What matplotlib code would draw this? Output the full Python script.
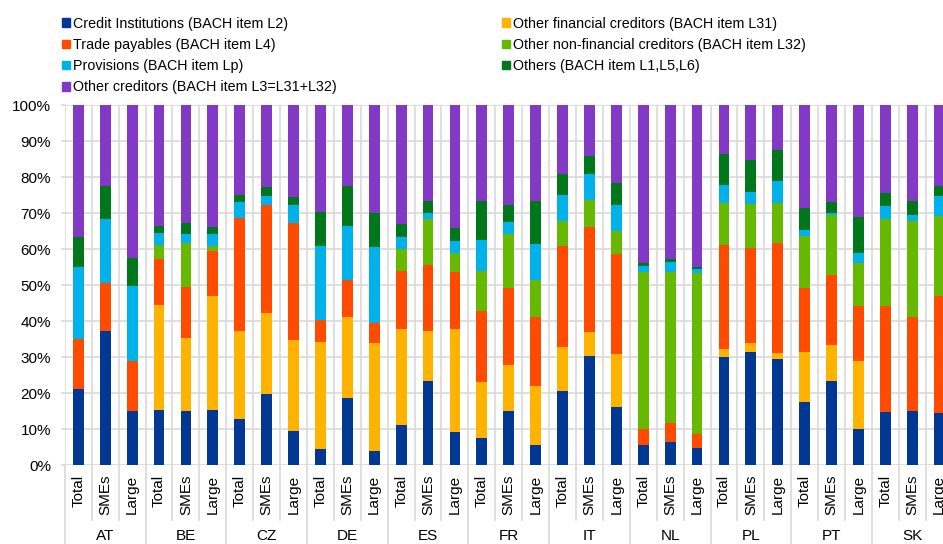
import numpy as np
import matplotlib.pyplot as plt
from matplotlib.patches import Patch

plt.rcParams['font.family'] = ['Liberation Sans', 'DejaVu Sans']

countries = ["AT", "BE", "CZ", "DE", "ES", "FR", "IT", "NL", "PL", "PT", "SK"]
sizes = ["Total", "SMEs", "Large"]

# shares in % per bar (country x size), bottom to top
credit = [21.2, 37.4, 15.1, 15.3, 15.0, 15.3, 12.7, 19.8, 9.4, 4.5, 18.5, 3.9,
          11.1, 23.4, 9.3, 7.6, 15.0, 5.7, 20.7, 30.4, 16.2, 5.6, 6.5, 4.8,
          30.1, 31.3, 29.6, 17.5, 23.5, 10.0, 14.7, 15.1, 14.4]
other_fin = [0, 0, 0, 29.2, 20.3, 31.7, 24.7, 22.6, 25.4, 29.6, 22.6, 29.9,
             26.8, 13.9, 28.6, 15.6, 12.8, 16.4, 12.1, 6.7, 14.8, 0, 0, 0,
             2.2, 2.7, 1.5, 13.9, 10.0, 18.9, 0, 0, 0]
trade = [13.8, 13.2, 13.9, 12.8, 14.1, 12.4, 31.4, 30.0, 32.5, 6.1, 10.4, 5.8,
         16.0, 18.3, 15.7, 19.7, 21.4, 19.1, 28.2, 29.0, 27.6, 4.3, 5.1, 3.7,
         29.0, 26.4, 30.6, 17.7, 19.3, 15.2, 29.4, 26.0, 32.7]
other_nonfin = [0, 0, 0, 3.9, 12.3, 1.6, 0, 0, 0, 0, 0, 0,
                6.3, 12.8, 5.3, 11.0, 15.0, 10.3, 6.9, 7.5, 6.6, 43.9, 42.2, 45.0,
                11.5, 12.2, 11.1, 14.5, 16.8, 12.0, 24.4, 26.7, 22.2]
provisions = [20.0, 17.9, 20.8, 3.3, 2.6, 3.3, 4.4, 2.3, 5.0, 20.6, 15.1, 21.0,
              3.3, 1.6, 3.4, 8.7, 3.3, 9.9, 7.2, 7.2, 7.2, 1.6, 2.7, 1.0,
              5.1, 3.2, 6.2, 1.8, 0.5, 2.9, 3.6, 1.8, 5.6]
others = [8.3, 9.2, 7.9, 2.1, 3.1, 2.0, 2.0, 2.5, 2.1, 9.5, 10.9, 9.4,
          3.4, 3.4, 3.7, 10.7, 4.7, 12.0, 5.7, 5.0, 6.1, 0.7, 0.9, 0.5,
          8.7, 8.9, 8.5, 6.0, 3.0, 10.1, 3.5, 3.7, 2.8]
other_cred = [36.7, 22.3, 42.3, 33.4, 32.6, 33.7, 24.8, 22.8, 25.6, 29.7, 22.5, 30.0,
              33.1, 26.6, 34.0, 26.7, 27.8, 26.6, 19.2, 14.2, 21.5, 43.9, 42.6, 45.0,
              13.4, 15.3, 12.5, 28.6, 26.9, 30.9, 24.4, 26.7, 22.3]

series = [
    ("Credit Institutions (BACH item L2)", credit, "#013893"),
    ("Other financial creditors (BACH item L31)", other_fin, "#FFB300"),
    ("Trade payables (BACH item L4)", trade, "#FF4B00"),
    ("Other non-financial creditors (BACH item L32)", other_nonfin, "#66B800"),
    ("Provisions (BACH item Lp)", provisions, "#00B1EA"),
    ("Others (BACH item L1,L5,L6)", others, "#00771A"),
    ("Other creditors (BACH item L3=L31+L32)", other_cred, "#8139C6"),
]

fig = plt.figure(figsize=(9.43, 5.44), dpi=100)
ax = fig.add_axes([0.0688, 0.1452, 0.9414, 0.661])

x = np.arange(len(credit))
bottom = np.zeros(len(credit))
for name, vals, col in series:
    ax.bar(x, vals, 0.4, bottom=bottom, color=col, label=name, zorder=3)
    bottom += np.array(vals)

grid_col = "#D9D9D9"
ax.set_xlim(-0.5, len(credit) - 0.5)
ax.set_ylim(0, 100)
ax.set_yticks(np.arange(0, 101, 10))
ax.set_yticklabels([f"{v}%" for v in range(0, 101, 10)], fontsize=11)
ax.tick_params(axis="y", length=3, color=grid_col, width=1.2, pad=7)
ax.yaxis.grid(True, color=grid_col, linewidth=1.2, zorder=0)
ax.set_xticks(np.arange(-0.5, len(credit), 1), minor=True)
ax.xaxis.grid(True, which="minor", color=grid_col, linewidth=1.2, zorder=0)
ax.set_xticks(x)
ax.set_xticklabels(sizes * len(countries), rotation=90, fontsize=11)
ax.tick_params(axis="x", which="both", length=0, pad=7)
for s in ax.spines.values():
    s.set_visible(False)

# separators and country labels under the axis
trans = ax.get_xaxis_transform()
for b in np.arange(-0.5, len(credit), 1):
    low = -0.26 if (b + 0.5) % 3 == 0 else -0.153
    ax.plot([b, b], [0, low], transform=trans, color=grid_col, lw=1.2, clip_on=False)
for i, c in enumerate(countries):
    ax.text(3 * i + 1, -0.216, c, transform=trans, ha="center", va="bottom", fontsize=11)

handles = [Patch(color=col) for _, _, col in series]
order = [0, 2, 4, 6, 1, 3, 5]
fig.legend([handles[i] for i in order], [series[i][0] for i in order],
           ncol=2, loc="upper left", bbox_to_anchor=(0.0657, 0.969),
           frameon=False, fontsize=10.3, handlelength=0.55, handleheight=0.55,
           handletextpad=0.25, labelspacing=0.5, columnspacing=11.5,
           borderpad=0, borderaxespad=0)

fig.savefig("out.png", dpi=100)
